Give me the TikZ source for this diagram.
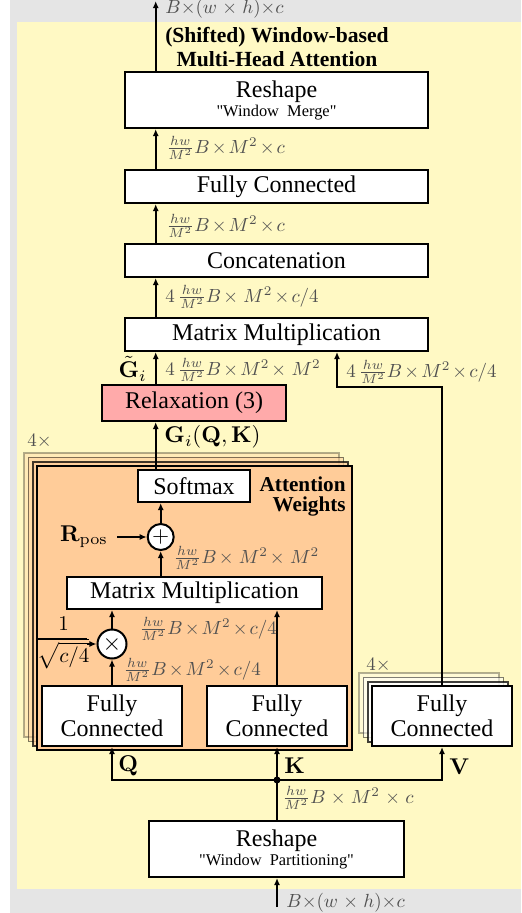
\RequirePackage{fix-cm}
\documentclass[tikz,border=0pt]{standalone}
\usepackage{amsmath}
\usepackage{graphicx}
\usepackage[no-math]{fontspec}
\setmainfont{Liberation Serif}
\usetikzlibrary{arrows.meta,calc}
\definecolor{bggray}{RGB}{229,229,229}
\definecolor{bgyellow}{RGB}{255,249,196}
\definecolor{peach}{RGB}{255,204,153}
\definecolor{relaxpink}{RGB}{255,170,170}
\definecolor{labgray}{RGB}{80,80,80}
\newcommand\fsbox{\fontsize{12}{12.5}\selectfont}
\newcommand\fsreshape{\fontsize{12}{9.5}\selectfont}
\newcommand\fsq{\fontsize{8.2}{9}\selectfont}
\newcommand\fslab{\fontsize{10}{12}\selectfont}
\newcommand\fsbl{\fontsize{11.4}{12}\selectfont}
\newcommand\dq{\XeTeXglyph\XeTeXglyphindex "quotedbl"\relax}
\newcommand\lbl[1]{\scalebox{0.95}{$\medmuskip=2mu #1$}}
\begin{document}
\begin{tikzpicture}[x=0.5pt,y=-0.5pt,
  box/.style={draw, line width=1pt, fill=white, inner sep=0pt, align=center, font=\fsbox},
  lab/.style={anchor=west, inner sep=0pt, text=labgray, font=\fslab},
  blab/.style={inner sep=0pt, font=\fsbl},
  arr/.style={-{Latex[length=3.6pt,width=3.1pt]}, line width=0.85pt},
  ln/.style={line width=0.85pt},
  opnode/.style={circle, draw, line width=1pt, fill=white, inner sep=0pt}]
\useasboundingbox (0,0) rectangle (521,913);
\fill[bggray] (10,0) rectangle (521,913);
\fill[bgyellow] (17,22) rectangle (521,889);

% title
\node[font=\fontsize{10.8}{11.7}\selectfont\bfseries, align=center, inner sep=0pt] (title) at (277,47) {(Shifted) Window-based\\Multi-Head Attention};

% upper column
\node[box, font=\fsreshape, minimum width=151.5pt, minimum height=28pt] (rtop) at (276.5,100) {Reshape\\{\fsq \dq Window~ Merge\dq}};
\node[box, minimum width=151.5pt, minimum height=16.5pt] (fc) at (276.5,186.5) {Fully Connected};
\node[box, minimum width=151.5pt, minimum height=16.5pt] (cat) at (276.5,260.5) {Concatenation};
\node[box, minimum width=151.5pt, minimum height=16.5pt] (mm) at (276.5,334.5) {Matrix Multiplication};
\node[box, fill=relaxpink, minimum width=92pt, minimum height=18pt] (rel) at (194,403) {Relaxation (3)};

% attention weights stack
\foreach \k/\op in {3/0.3,2/0.5,1/0.75}
  \draw[line width=0.8pt, fill=peach, opacity=\op] ({37-4.3*\k},{466-4.3*\k}) rectangle ({352-4.3*\k},{750-4.3*\k});
\node[draw, line width=1.2pt, fill=peach, minimum width=157.5pt, minimum height=142pt, inner sep=0pt] (attn) at (194.5,608) {};
\node[font=\fontsize{10.6}{10}\selectfont\bfseries, align=right, anchor=east, inner sep=0pt] (aw) at (346,496) {Attention\\Weights};
\node[box, minimum width=56pt, minimum height=16pt] (sm) at (194,486) {Softmax};
\node[opnode, minimum size=13pt, font=\fontsize{11}{11}\selectfont] (plus) at (160.7,537) {$+$};
\node[box, minimum width=127.5pt, minimum height=16pt] (imm) at (194.5,593) {Matrix Multiplication};
\node[opnode, minimum size=14.5pt, font=\fontsize{12}{12}\selectfont] (times) at (112,644) {$\times$};

% V stack
\foreach \k/\op in {3/0.3,2/0.5,1/0.75}
  \draw[line width=0.8pt, fill=white, opacity=\op] ({372-4.3*\k},{686-4.3*\k}) rectangle ({512-4.3*\k},{746-4.3*\k});

\node[box, minimum width=70pt, minimum height=30pt] (fcQ) at (112,716) {Fully\\Connected};
\node[box, minimum width=70pt, minimum height=30pt] (fcK) at (277,716) {Fully\\Connected};
\node[box, minimum width=70pt, minimum height=30pt] (fcV) at (442,716) {Fully\\Connected};

\node[box, font=\fsreshape, minimum width=127.5pt, minimum height=28pt] (rbot) at (276.5,849) {Reshape\\{\fsq \dq Window~ Partitioning\dq}};
\node[circle, fill, inner sep=0pt, minimum size=3.5pt] (dot) at (277,780) {};

% coordinates
\coordinate (outT) at (155.7,1);
\coordinate (vb) at (337,387);
\coordinate (sB) at (87,639);
\coordinate (sC) at (87,644);
\coordinate (inB) at (277,907);

% connectors
\draw[arr] (rtop.north -| outT) -- (outT);
\draw[arr] (fc.north -| outT) -- (rtop.south -| outT);
\draw[arr] (cat.north -| outT) -- (fc.south -| outT);
\draw[arr] (mm.north -| outT) -- (cat.south -| outT);
\draw[arr] (rel.north -| outT) -- (mm.south -| outT);
\draw[arr] (sm.north -| outT) -- (rel.south -| outT);
\draw[arr] (plus.north) -- (plus.north |- sm.south);
\draw[arr] (imm.north -| plus) -- (plus.south);
\draw[arr] (times.north) -- (times.north |- imm.south);
\draw[arr] (fcQ.north) -- (times.south);
\draw[arr] (fcK.north) -- (fcK.north |- imm.south);
\draw[arr] (fcV.north) |- (vb) -- (vb |- mm.south);
\draw[ln] (attn.west |- sB) -- (sB);
\draw[arr] (sC) -- (times.west);
\draw[ln] (rbot.north -| dot) -- (dot.center);
\draw[arr] (dot.center) -| (fcQ.south);
\draw[arr] (dot.center) -- (fcK.south);
\draw[arr] (dot.center) -| (fcV.south);
\draw[arr] (inB) -- (inB |- rbot.south);

% Rpos
\node[blab, anchor=east, inner xsep=4.5pt] (rpos) at (117,537) {$\mathbf{R}_{\mathrm{pos}}$};
\draw[arr] (rpos.east) -- (plus.west);
\node[inner sep=0pt, font=\fontsize{10.5}{11}\selectfont] (frac) at (63.5,643) {$\dfrac{1}{\sqrt{c/4}}$};

% labels
\node[lab] (l0) at (165,9) {\lbl{B{\times}(w\,\times\,h){\times}c}};
\node[lab] (l1) at (166,148) {\lbl{\frac{hw}{M^2}B\times M^2\times c}};
\node[lab] (l2) at (166,226) {\lbl{\frac{hw}{M^2}B\times M^2\times c}};
\node[lab] (l3) at (165,297) {\lbl{4\,\frac{hw}{M^2}B\times\, M^2\times c/4}};
\node[lab] (l4) at (165,370) {\lbl{4\,\frac{hw}{M^2}B\times M^2\times\, M^2}};
\node[lab] (l5) at (346,372) {\lbl{4\,\frac{hw}{M^2}B\times M^2\times c/4}};
\node[blab, anchor=east] (lgt) at (147,369) {$\tilde{\mathbf{G}}_i$};
\node[blab, anchor=west] (lgi) at (164,437) {$\mathbf{G}_i(\mathbf{Q},\mathbf{K})$};
\node[lab] (x1) at (27,441) {\lbl{4\times}};
\node[lab] (l6) at (173,558) {\lbl{\frac{hw}{M^2}B\times\, M^2\times\, M^2}};
\node[lab] (l7) at (139,629) {\lbl{\frac{hw}{M^2}B\times M^2\times c/4}};
\node[lab] (l8) at (123,670) {\lbl{\frac{hw}{M^2}B\times M^2\times c/4}};
\node[lab] (x2) at (366,665) {\lbl{4\times}};
\node[blab, anchor=west] (lq) at (118,766) {$\mathbf{Q}$};
\node[blab, anchor=west] (lk) at (284,766) {$\mathbf{K}$};
\node[blab, anchor=west] (lv) at (449,767) {$\mathbf{V}$};
\node[lab] (l9) at (282,798) {\lbl{\frac{hw}{M^2}B\,\times\,M^2\,\times\,c}};
\node[lab] (l10) at (286,903) {\lbl{B{\times}(w\,\times\,h){\times}c}};
\end{tikzpicture}
\end{document}
